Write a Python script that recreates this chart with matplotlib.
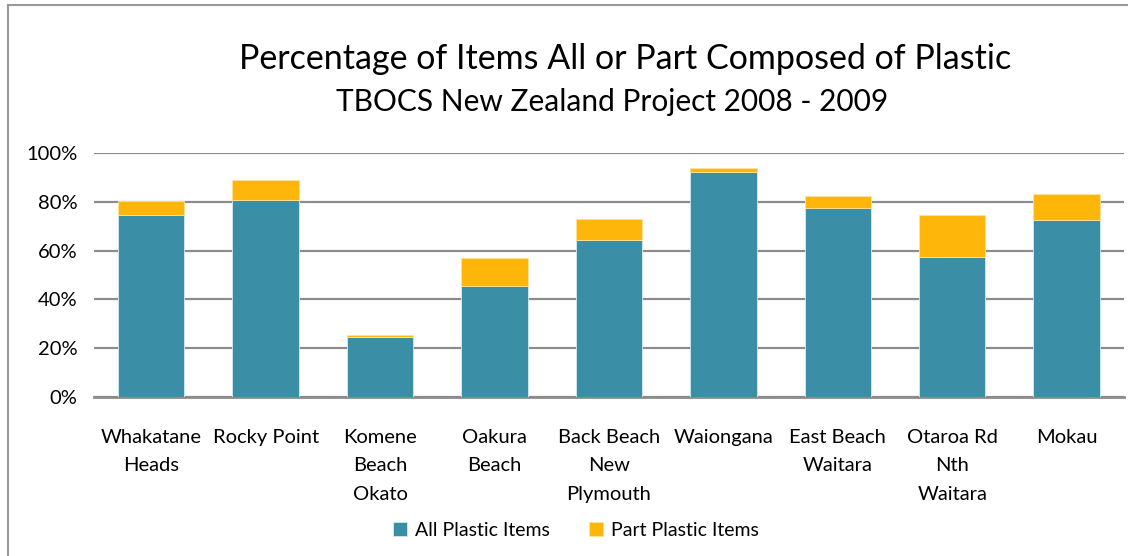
"""Stacked bars: share of beach litter items made fully or partly of plastic."""

import matplotlib
matplotlib.use("Agg")
import matplotlib.pyplot as plt
from matplotlib.patches import Rectangle
from matplotlib.ticker import FuncFormatter
import numpy as np

SITES = [
    "Whakatane\nHeads",
    "Rocky Point",
    "Komene\nBeach\nOkato",
    "Oakura\nBeach",
    "Back Beach\nNew\nPlymouth",
    "Waiongana",
    "East Beach\nWaitara",
    "Otaroa Rd\nNth\nWaitara",
    "Mokau",
]
ALL_PLASTIC = [74.5, 80.9, 24.5, 45.4, 64.5, 92.4, 77.5, 57.4, 72.5]
PART_PLASTIC = [5.8, 8.0, 0.8, 11.5, 8.6, 1.4, 5.0, 17.2, 10.8]
Y_TICKS = [0, 20, 40, 60, 80, 100]

BLUE = "#3A8FA7"
GOLD = "#FFB60B"
GRID = "#8C8C8C"

plt.rcParams["font.family"] = ["Lato", "DejaVu Sans"]

fig = plt.figure(figsize=(11.28, 5.56), dpi=100)
ax = fig.add_axes([0.0833, 0.2865, 0.913, 0.4378])

x = np.arange(len(SITES))
ax.bar(x, ALL_PLASTIC, width=0.58, color=BLUE, edgecolor="#d6eaf0", linewidth=0.6,
       label="All Plastic Items", zorder=3)
ax.bar(x, PART_PLASTIC, width=0.58, bottom=ALL_PLASTIC, color=GOLD, edgecolor="#ffe29a",
       linewidth=0.6, label="Part Plastic Items", zorder=3)

ax.set_xlim(-0.5, len(SITES) - 0.5)
ax.set_ylim(0, 100)
ax.set_yticks(Y_TICKS)
ax.yaxis.set_major_formatter(FuncFormatter(lambda v, _: f"{v:.0f}%"))
ax.grid(axis="y", color=GRID, linewidth=1.6, zorder=0)
for side in ["top", "right", "left"]:
    ax.spines[side].set_visible(False)
ax.spines["bottom"].set_color(GRID)
ax.spines["bottom"].set_linewidth(2)
ax.tick_params(axis="y", length=0, pad=12, labelsize=14.5)
ax.tick_params(axis="x", length=0, pad=23, labelsize=14.5)
ax.set_xticks(x)
ax.set_xticklabels(SITES, linespacing=1.82, va="top")

fig.text(0.554, 0.893, "Percentage of Items All or Part Composed of Plastic",
         ha="center", va="center", fontsize=24.5)
fig.text(0.543, 0.817, "TBOCS New Zealand Project 2008 - 2009",
         ha="center", va="center", fontsize=21.5)

ax.legend(loc="center", bbox_to_anchor=(0.468, -0.55), ncol=2, frameon=False,
          fontsize=14, handlelength=0.75, handleheight=0.75, handletextpad=0.4,
          columnspacing=2.0)

fig.patches.append(Rectangle((8 / 1128, -0.1), 1.2, 1 - 5 / 556 + 0.1,
                             transform=fig.transFigure, fill=False,
                             edgecolor="#9a9a9a", linewidth=1.5))

fig.savefig("out.png", dpi=100, facecolor="white")
